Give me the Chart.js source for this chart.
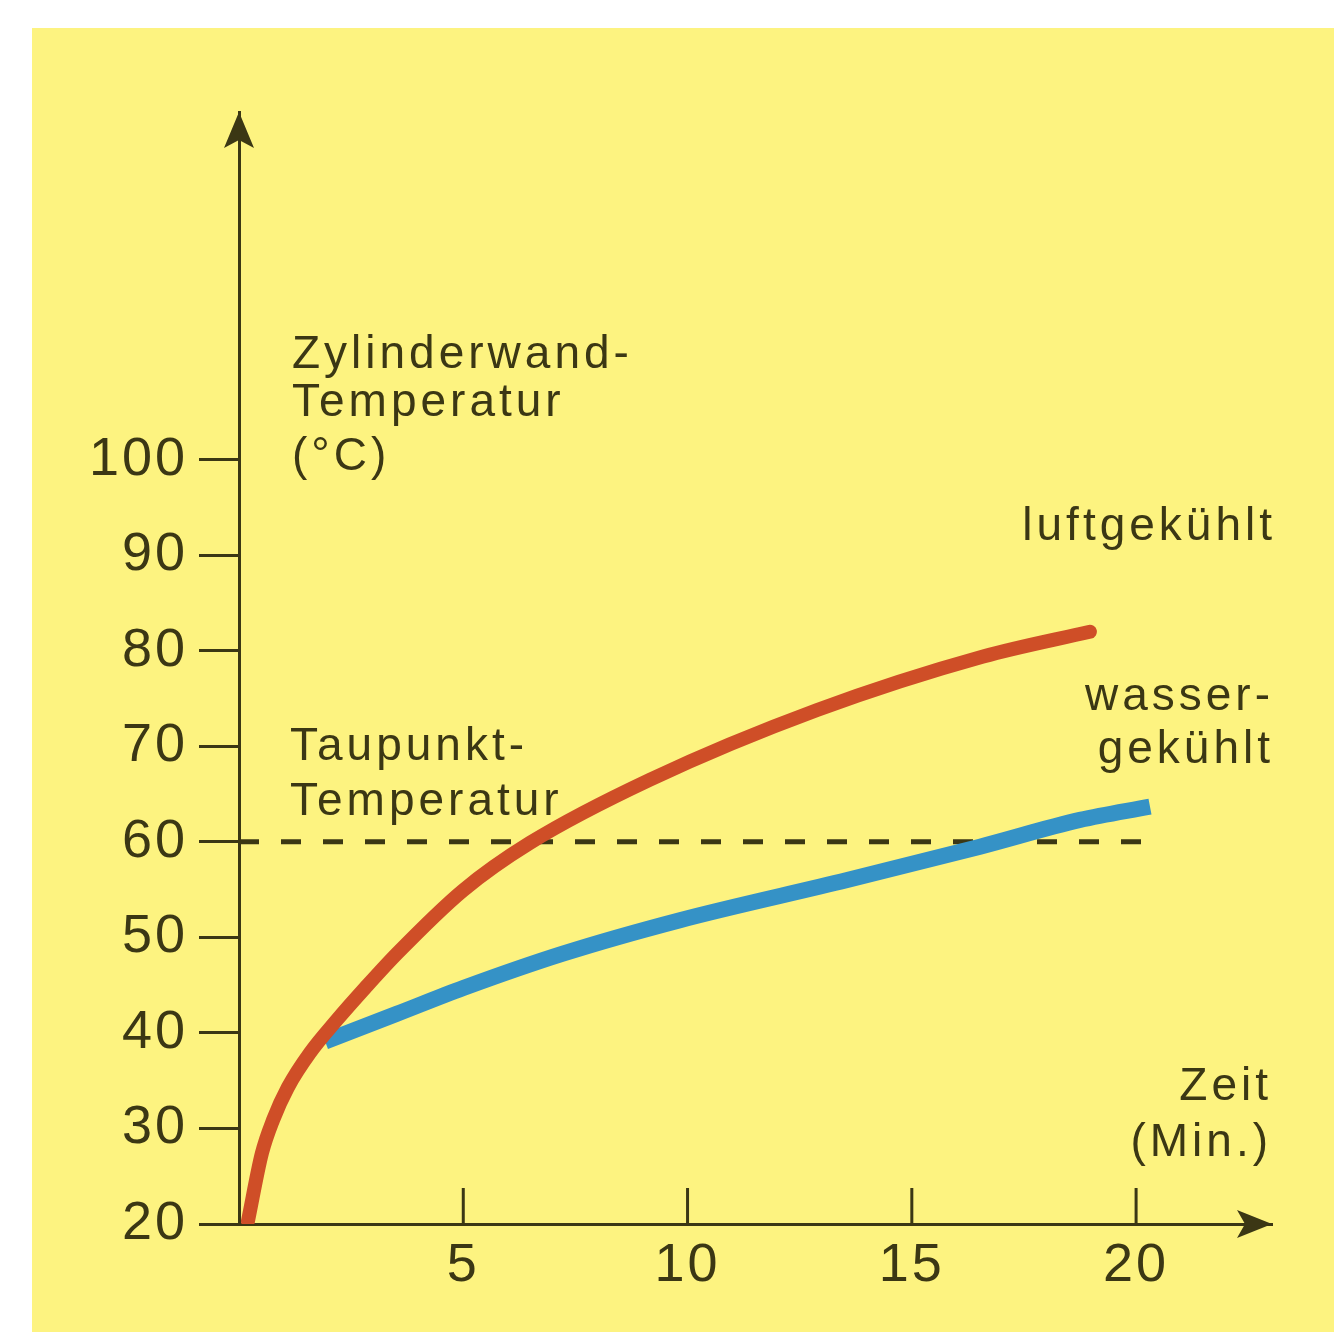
<!DOCTYPE html>
<html lang="de">
<head>
<meta charset="UTF-8" />
<title>Zylinderwand-Temperatur</title>
<script src="https://cdn.jsdelivr.net/npm/chart.js"></script>
<style>
  body { margin: 0; background: #fff; }
  .wrap { position: relative; width: 1334px; height: 1332px; overflow: hidden; }
  .paper { position: absolute; left: 32px; top: 28px; right: 0; bottom: 0; background: #fdf380; }
  #chart { position: absolute; left: 0; top: 0; }
</style>
</head>
<body>
<div class="wrap">
  <div class="paper"></div>
  <canvas id="chart" width="1334" height="1332"></canvas>
</div>
<script>
// Zeit (Min.) / Temperatur (°C)
const xTicks = [5, 10, 15, 20];
const yTicks = [20, 30, 40, 50, 60, 70, 80, 90, 100];

const luftX = [0.2, 0.51, 0.76, 1.09, 1.58, 2.19, 2.81, 3.52, 4.99, 6.49, 9.16, 12.89, 16.59, 18.97];
const luftY = [20.3, 27.4, 30.9, 34.3, 37.9, 41.4, 44.7, 48.3, 54.9, 59.9, 66.5, 73.8, 79.4, 82.0];

const wasserX = [1.92, 3.52, 5.0, 7.22, 9.83, 13.56, 16.52, 18.75, 20.31];
const wasserY = [39.1, 42.0, 44.7, 48.3, 51.8, 56.0, 59.5, 62.3, 63.7];

const taupunkt = 60;
const taupunktEnd = 20.5;

const dark = '#3b3714';
const font = '"Liberation Sans", Arial, sans-serif';

// text labels: [text, x, y, align]
const notes = [
  ['Zylinderwand-', 292, 368, 'left'],
  ['Temperatur', 292, 416, 'left'],
  ['(°C)', 292, 470, 'left'],
  ['Taupunkt-', 290, 760, 'left'],
  ['Temperatur', 290, 815, 'left'],
  ['luftgekühlt', 1276, 540, 'right'],
  ['wasser-', 1274, 710, 'right'],
  ['gekühlt', 1274, 763, 'right'],
  ['Zeit', 1272, 1100, 'right'],
  ['(Min.)', 1272, 1156, 'right']
];

const spacing = {
  id: 'spacing',
  beforeUpdate(chart) { chart.ctx.letterSpacing = '3px'; },
  beforeDraw(chart) { chart.ctx.letterSpacing = '3px'; }
};

const extras = {
  id: 'extras',
  afterDraw(chart) {
    const { ctx, chartArea: a, scales: { x, y } } = chart;
    ctx.save();
    ctx.fillStyle = dark;
    ctx.strokeStyle = dark;
    ctx.lineWidth = 3;

    // x ticks point upward
    xTicks.forEach(v => {
      const px = x.getPixelForValue(v);
      ctx.beginPath();
      ctx.moveTo(px, a.bottom);
      ctx.lineTo(px, a.bottom - 36);
      ctx.stroke();
    });

    // arrow heads
    const ax = x.getPixelForValue(0);
    ctx.beginPath();
    ctx.moveTo(ax, a.top);
    ctx.lineTo(ax - 15, a.top + 36);
    ctx.lineTo(ax, a.top + 28);
    ctx.lineTo(ax + 15, a.top + 36);
    ctx.closePath();
    ctx.fill();

    const ay = y.getPixelForValue(20);
    ctx.beginPath();
    ctx.moveTo(a.right, ay);
    ctx.lineTo(a.right - 35, ay - 14);
    ctx.lineTo(a.right - 27, ay);
    ctx.lineTo(a.right - 35, ay + 14);
    ctx.closePath();
    ctx.fill();

    ctx.letterSpacing = '4px';
    ctx.font = '46px ' + font;
    ctx.textBaseline = 'alphabetic';
    notes.forEach(([t, nx, ny, al]) => {
      ctx.textAlign = al;
      ctx.fillText(t, nx, ny);
    });
    ctx.restore();
  }
};

const pts = (xs, ys) => xs.map((v, i) => ({ x: v, y: ys[i] }));

new Chart(document.getElementById('chart'), {
  type: 'scatter',
  data: {
    datasets: [
      {
        label: 'luftgekühlt',
        data: pts(luftX, luftY),
        showLine: true,
        borderColor: '#cf4e27',
        borderWidth: 14,
        borderCapStyle: 'round',
        pointRadius: 0,
        cubicInterpolationMode: 'monotone'
      },
      {
        label: 'wassergekühlt',
        data: pts(wasserX, wasserY),
        showLine: true,
        borderColor: '#3592c6',
        borderWidth: 16,
        borderCapStyle: 'butt',
        pointRadius: 0,
        cubicInterpolationMode: 'monotone'
      },
      {
        label: 'Taupunkt-Temperatur',
        data: [{ x: 0, y: taupunkt }, { x: taupunktEnd, y: taupunkt }],
        showLine: true,
        borderColor: dark,
        borderWidth: 5,
        borderDash: [20, 22],
        pointRadius: 0
      }
    ]
  },
  options: {
    responsive: false,
    animation: false,
    events: [],
    layout: { padding: { top: 112, right: 62, left: 0, bottom: 0 } },
    plugins: { legend: { display: false }, tooltip: { enabled: false } },
    scales: {
      x: {
        type: 'linear',
        min: 0,
        max: 23.03,
        afterFit: s => { s.height = 108; },
        afterBuildTicks: s => { s.ticks = xTicks.map(v => ({ value: v })); },
        grid: { drawOnChartArea: false, drawTicks: false },
        border: { color: dark, width: 3 },
        ticks: { font: { family: font, size: 54 }, color: dark, padding: 10, maxRotation: 0 }
      },
      y: {
        type: 'linear',
        min: 20,
        max: 136.4,
        afterFit: s => { s.width = 239; },
        afterBuildTicks: s => { s.ticks = yTicks.map(v => ({ value: v })); },
        grid: { drawOnChartArea: false, tickLength: 40, lineWidth: 3, color: dark },
        border: { color: dark, width: 3 },
        ticks: { font: { family: font, size: 54 }, color: dark, padding: 11 }
      }
    }
  },
  plugins: [spacing, extras]
});
</script>
</body>
</html>
